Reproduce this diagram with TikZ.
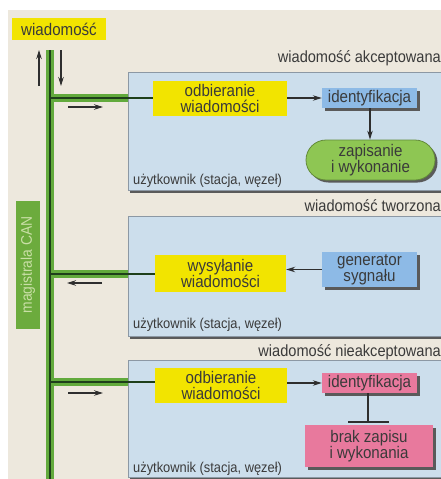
\documentclass[tikz,border=0pt]{standalone}
\usepackage{fontspec}
\setmainfont{Liberation Sans}
\newfontfamily\nf[FakeStretch=0.9]{Liberation Sans}
\usetikzlibrary{arrows.meta}
\definecolor{bgbeige}{HTML}{EDE8DD}
\definecolor{boxblue}{HTML}{CCDEEC}
\definecolor{boxedge}{HTML}{8C98A4}
\definecolor{yel}{HTML}{F2E400}
\definecolor{midblue}{HTML}{8DBAE6}
\definecolor{pinkc}{HTML}{E8799D}
\definecolor{stadgreen}{HTML}{8EC653}
\definecolor{busgreen}{HTML}{62AA3C}
\definecolor{busdark}{HTML}{1E3F1A}
\definecolor{maggreen}{HTML}{6CAB3D}
\definecolor{magtext}{HTML}{C9DFA6}
\definecolor{txt}{HTML}{3A3A3A}
\definecolor{shad}{HTML}{5A5A5A}
\tikzset{
  every node/.style={font=\nf, text=txt},
  bigbox/.style={draw=boxedge, line width=1pt, fill=boxblue, inner sep=0pt},
  yelbox/.style={fill=yel, inner sep=0pt, align=center, font=\nf\fontsize{16.8}{16}\selectfont},
  smallbox/.style={inner sep=0pt, align=center, font=\nf\fontsize{16.8}{16}\selectfont,
     general shadow={fill=shad, shadow xshift=2.5pt, shadow yshift=-2.5pt}},
  lbl/.style={font=\nf\fontsize{16.2}{18}\selectfont, inner sep=0pt},
  usr/.style={font=\nf\fontsize{14.3}{16}\selectfont, inner sep=0pt, anchor=base west},
  conn/.style={draw=txt!80!black, line width=1.1pt, -{Stealth[length=9pt,width=5.5pt]}},
  buspipe/.style={draw=busgreen, line width=8.5pt},
  busline/.style={draw=busdark, line width=1.2pt},
}
\usetikzlibrary{shadows}
\begin{document}
\begin{tikzpicture}[x=1pt,y=-1pt]
\useasboundingbox (0,0) rectangle (441,479);
\clip (0,0) rectangle (441,479);
\fill[white] (0,0) rectangle (441,479);
\fill[bgbeige] (8,10) rectangle (441,479);

% big user boxes
\fill[shad] (130,74) rectangle (452,192.5);
\node[bigbox, minimum width=322pt, minimum height=118pt] (u1) at (289,131) {};
\fill[shad] (130,218) rectangle (452,338.5);
\node[bigbox, minimum width=322pt, minimum height=120pt] (u2) at (289,276) {};
\fill[shad] (130,362) rectangle (452,480);
\node[bigbox, minimum width=322pt, minimum height=117pt] (u3) at (289,418.5) {};

% labels above boxes
\node[lbl, anchor=base east] (l1) at (441,62) {wiadomość akceptowana};
\node[lbl, anchor=base east] (l2) at (441,211) {wiadomość tworzona};
\node[lbl, anchor=base east] (l3) at (441,356) {wiadomość nieakceptowana};

\node[usr] (us1) at (133,184) {użytkownik (stacja, węzeł)};
\node[usr] (us2) at (133,328.5) {użytkownik (stacja, węzeł)};
\node[usr] (us3) at (133,472) {użytkownik (stacja, węzeł)};

% top message box
\node[yelbox, minimum width=94pt, minimum height=22pt] (msg) at (59,29) {wiadomość};

% magistrala CAN
\node[fill=maggreen, rotate=90, minimum width=128pt, minimum height=24pt, inner sep=0pt,
      font=\nf\fontsize{15.4}{16}\selectfont, text=magtext] (mag) at (28,265) {magistrala CAN};

% bus
\coordinate (bt) at (50,50);
\coordinate (bb) at (50,482);
\coordinate (b1) at (50,98);
\coordinate (b2) at (50,274);
\coordinate (b3) at (50,382);

% yellow boxes
\node[yelbox, minimum width=134pt, minimum height=35pt] (y1) at (220,98.5) {odbieranie\\wiadomości};
\node[yelbox, minimum width=131pt, minimum height=37pt] (y2) at (220.5,273.5) {wysyłanie\\wiadomości};
\node[yelbox, minimum width=132pt, minimum height=35pt] (y3) at (221,385.5) {odbieranie\\wiadomości};

% bus pipes
\draw[buspipe] (b1) -- (b1 -| u1.west);
\draw[buspipe] (b2) -- (b2 -| u2.west);
\draw[buspipe] (b3) -- (b3 -| u3.west);
\draw[buspipe] (bt) -- (bb);
\draw[busline] (bt) -- (bb);
\draw[busline] (b1) -- (b1 -| y1.west);
\draw[busline] (b2) -- (b2 -| y2.west);
\draw[busline] (b3) -- (b3 -| y3.west);

% direction arrows near bus
\coordinate (ua0) at (39,86);
\coordinate (ua1) at (39,50);
\coordinate (da0) at (61,50);
\coordinate (da1) at (61,86);
\coordinate (r1a) at (68,107);
\coordinate (r1b) at (103,107);
\coordinate (r2a) at (102,283);
\coordinate (r2b) at (67,283);
\coordinate (r3a) at (68,393);
\coordinate (r3b) at (103,393);
\draw[conn] (ua0) -- (ua1);
\draw[conn] (da0) -- (da1);
\draw[conn] (r1a) -- (r1b);
\draw[conn] (r2a) -- (r2b);
\draw[conn] (r3a) -- (r3b);

% inner nodes
\node[smallbox, fill=midblue, minimum width=95pt, minimum height=20pt] (id1) at (369.5,98) {identyfikacja};
\node[smallbox, fill=stadgreen, draw=stadgreen!70!black, line width=0.8pt, rounded corners=20pt,
      minimum width=129pt, minimum height=40pt] (zap) at (370.5,160) {zapisanie\\i wykonanie};
\node[smallbox, fill=midblue, minimum width=95pt, minimum height=35pt] (gen) at (369.5,269.5) {generator\\sygnału};
\node[smallbox, fill=pinkc, minimum width=95pt, minimum height=20pt] (id3) at (369.5,383) {identyfikacja};
\node[smallbox, fill=pinkc, minimum width=128pt, minimum height=42pt] (brak) at (369,446) {brak zapisu\\i wykonania};

\draw[conn] (id1.west -| y1.east) -- (id1.west);
\draw[conn] (id1.south -| 370,0) -- (zap.north -| 370,0);
\draw[conn] (gen.west) -- (gen.west -| y2.east);
\draw[conn] (id3.west -| y3.east) -- (id3.west);
\coordinate (tb) at (368,422);
\draw[draw=txt!80!black, line width=1.1pt] (id3.south -| tb) -- (tb);
\draw[draw=txt!80!black, line width=1.6pt] ([xshift=-20pt]tb) -- ([xshift=21pt]tb);
\end{tikzpicture}
\end{document}
